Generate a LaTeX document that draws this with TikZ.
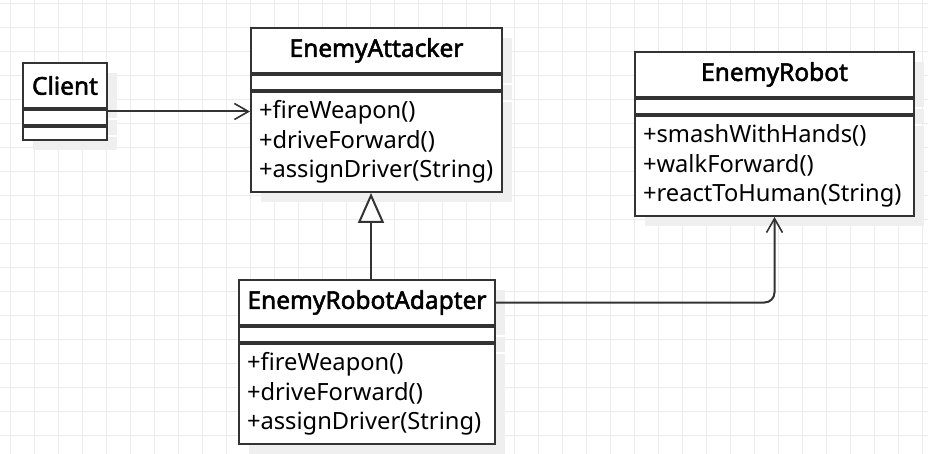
\documentclass[tikz,border=0pt]{standalone}
\usepackage{fontspec}
\setmainfont{Noto Sans}[AutoFakeBold=2.2]
\usepackage{xcolor}
\usepackage{tikz}
\usetikzlibrary{calc, shadows, arrows.meta, positioning}
\definecolor{gridgray}{HTML}{EBEBEB}
\definecolor{shadowgray}{HTML}{EFEFEF}
\definecolor{linegray}{HTML}{333333}
\tikzset{
    classnode/.style = {draw=linegray, line width=2pt, fill=white, text=black, rectangle, inner sep=0pt,
      anchor=north west, node distance=0pt,
      drop shadow={shadow xshift=10pt, shadow yshift=-10pt, fill=shadowgray, opacity=1}},
    titlenode/.style = {classnode, minimum height=45pt, font=\fontsize{24.5}{28}\selectfont\bfseries},
    blanknode/.style = {classnode, minimum height=15pt},
    opsnode/.style = {classnode, minimum height=100pt, inner xsep=8pt, align=left,
      font=\fontsize{23.7}{29.5}\selectfont},
    gridline/.style = {gridgray, line width=1pt},
    connect/.style = {linegray, line width=2pt, -{Straight Barb[length=14pt, width=16pt, line width=1.6pt]}},
    inherit/.style = {linegray, line width=2pt, -{Triangle[open, length=30pt, width=26pt, fill=white, line width=2pt]}}
}

\begin{document}
\begin{tikzpicture}[x=1pt, y=-1pt]
\useasboundingbox [fill=white] (0,0) rectangle (928,454);

% background grid
\foreach \gx in {0,...,38} \draw [gridline] (10.5+24*\gx,0) -- (10.5+24*\gx,454);
\foreach \gy in {0,...,18} \draw [gridline] (0,3.3+24*\gy) -- (928,3.3+24*\gy);

\node [titlenode, name=Client, minimum width=84pt] at (22,62) {Client};
\node [blanknode, name=ClientAttr, minimum width=84pt, below=of Client] {};
\node [blanknode, name=ClientOps, minimum width=84pt, minimum height=13pt, below=of ClientAttr] {};

\node [titlenode, name=Attacker, minimum width=251pt] at (250,27) {EnemyAttacker};
\node [blanknode, name=AttackerAttr, minimum width=251pt, below=of Attacker] {};
\node [opsnode, name=AttackerOps, text width=235pt, below=of AttackerAttr]
  {+fireWeapon()\\+driveForward()\\+assignDriver(String)};

\node [titlenode, name=Robot, minimum width=279pt] at (634,51) {EnemyRobot};
\node [blanknode, name=RobotAttr, minimum width=279pt, below=of Robot] {};
\node [opsnode, name=RobotOps, text width=263pt, below=of RobotAttr]
  {+smashWithHands()\\+walkForward()\\+reactToHuman(String)};

\node [titlenode, name=Adapter, minimum width=256pt] at (238,279) {EnemyRobotAdapter};
\node [blanknode, name=AdapterAttr, minimum width=256pt, below=of Adapter] {};
\node [opsnode, name=AdapterOps, text width=240pt, below=of AdapterAttr]
  {+fireWeapon()\\+driveForward()\\+assignDriver(String)};

\coordinate (ClientOut) at ([yshift=-2.5pt]Client.south east);
\coordinate (AdapterUp) at ([xshift=4pt]Adapter.north);

\draw (ClientOut) edge[connect] (ClientOut -| AttackerOps.west);
\draw (AdapterUp) edge[inherit] (AdapterUp |- AttackerOps.south);
\draw [connect, rounded corners=10pt] (Adapter.east) -| (RobotOps.south);

\end{tikzpicture}
\end{document}
